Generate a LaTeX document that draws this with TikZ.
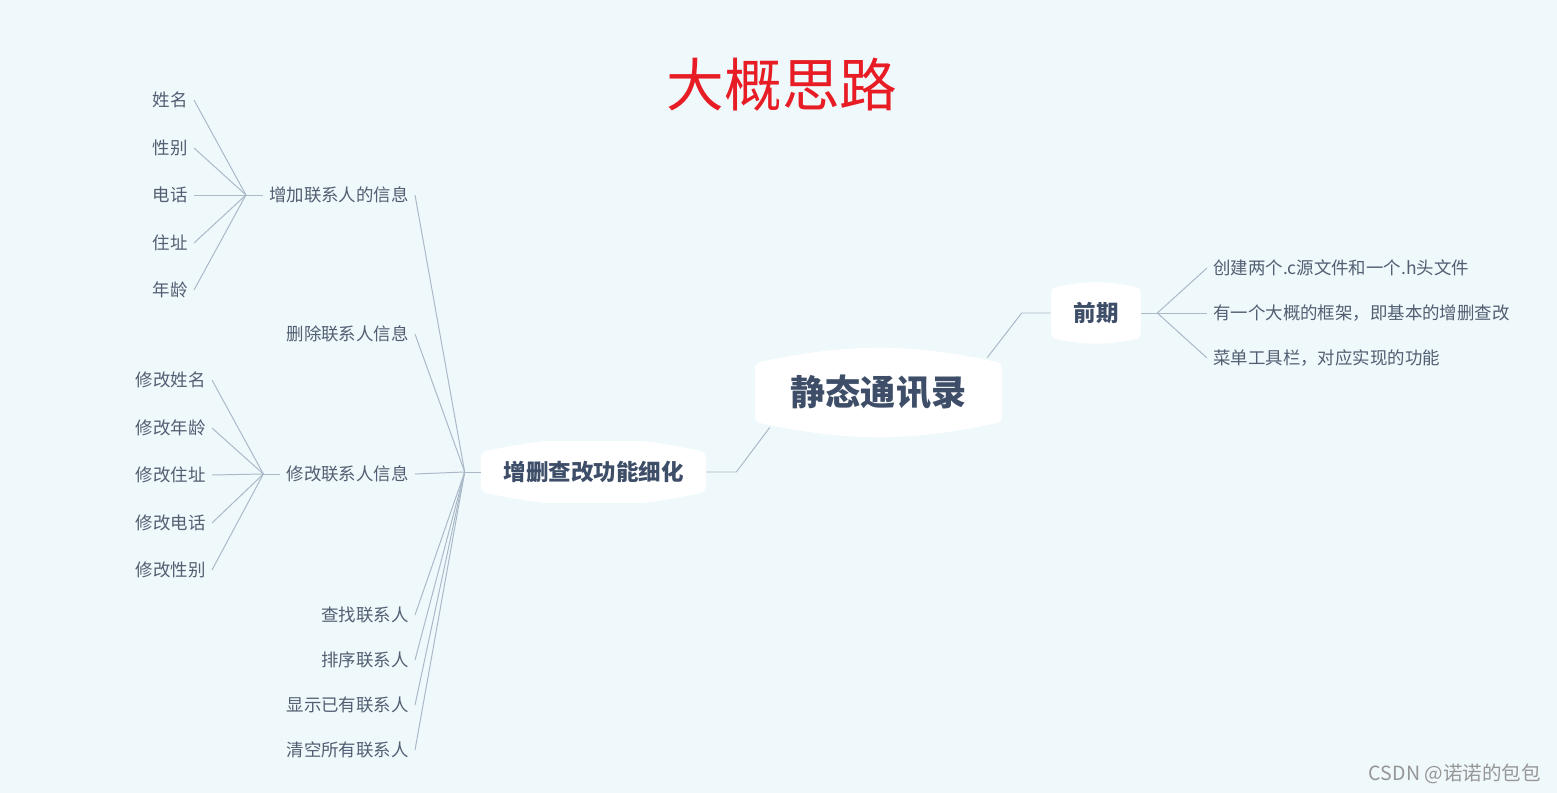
\documentclass[tikz,border=0pt]{standalone}
\usepackage{fontspec}
\setmainfont{Noto Sans CJK SC}
\usetikzlibrary{calc}

\definecolor{paper}{RGB}{239,248,251}
\definecolor{linkgrey}{RGB}{170,184,200}
\definecolor{leafgrey}{RGB}{82,94,114}
\definecolor{topicblue}{RGB}{62,78,104}
\definecolor{titlered}{RGB}{232,28,36}
\definecolor{markgrey}{RGB}{150,150,150}

\tikzset{
	link/.style = {draw = linkgrey, line width = 0.7pt},
	leaf/.style = {text = leafgrey, font = \fontsize{12.4}{14}\selectfont, inner xsep = 0.15cm, inner ysep = 0pt},
	topic/.style = {text = topicblue, inner sep = 0pt,
		path picture = {
			\fill [white, rounded corners = 4pt]
				([yshift = -#1] path picture bounding box.north west)
				to [bend left = 12] ([yshift = -#1] path picture bounding box.north east)
				-- ([yshift = #1] path picture bounding box.south east)
				to [bend left = 12] ([yshift = #1] path picture bounding box.south west)
				-- cycle;
		}},
}

\begin{document}
\begin{tikzpicture}[x = 0.025cm, y = -0.025cm]
		\fill [paper] (0,0) rectangle (1557,793);
		\useasboundingbox (0,0) rectangle (1557,793);
		
		\node [text = titlered, font = \fontsize{41}{41}\selectfont] (title) at (782,85) {大概思路};
		
		\node [topic = 0.4cm, minimum width = 6.175cm, minimum height = 2.275cm, font = \fontsize{25}{25}\bfseries] (root) at (878.5,392.5) {静态通讯录};
		\node [topic = 0.15cm, minimum width = 2.25cm, minimum height = 1.55cm, font = \fontsize{16}{16}\bfseries] (pre) at (1096,313) {前期};
		\node [topic = 0.25cm, minimum width = 5.625cm, minimum height = 1.5cm, font = \fontsize{16}{16}\bfseries] (feat) at (593.5,472) {增删查改功能细化};
		
		\coordinate (root pre bend) at ($ (pre.west) + (-29,0) $);
		\coordinate (root feat bend) at ($ (feat.east) + (30,0) $);
		\draw [link] ($ (root.east) + (-15,-35) $) -- (root pre bend) -- (pre.west);
		\draw [link] ($ (root.west) + (15,35) $) -- (root feat bend) -- (feat.east);
		
		% 前期
		\node [leaf, anchor = west] (pre file) at (1207,268) {创建两个.c源文件和一个.h头文件};
		\node [leaf, anchor = west] (pre frame) at (1207,313) {有一个大概的框架，即基本的增删查改};
		\node [leaf, anchor = west] (pre menu) at (1207,358) {菜单工具栏，对应实现的功能};
		
		\coordinate (pre joint) at ($ (pre.east) + (16,0) $);
		\draw [link] (pre.east) -- (pre joint);
		\draw [link] (pre joint) -- (pre file.west);
		\draw [link] (pre joint) -- (pre frame.west);
		\draw [link] (pre joint) -- (pre menu.west);
		
		% 增删查改功能细化
		\node [leaf, anchor = east] (add) at (415,195) {增加联系人的信息};
		\node [leaf, anchor = east] (del) at (415,334) {删除联系人信息};
		\node [leaf, anchor = east] (mod) at (415,474) {修改联系人信息};
		\node [leaf, anchor = east] (find) at (415,615) {查找联系人};
		\node [leaf, anchor = east] (sort) at (415,660) {排序联系人};
		\node [leaf, anchor = east] (show) at (415,705) {显示已有联系人};
		\node [leaf, anchor = east] (clear) at (415,750) {清空所有联系人};
		
		\coordinate (feat joint) at ($ (feat.west) + (-16,0) $);
		\draw [link] (feat.west) -- (feat joint);
		\draw [link] (feat joint) -- (add.east);
		\draw [link] (feat joint) -- (del.east);
		\draw [link] (feat joint) -- (mod.east);
		\draw [link] (feat joint) -- (find.east);
		\draw [link] (feat joint) -- (sort.east);
		\draw [link] (feat joint) -- (show.east);
		\draw [link] (feat joint) -- (clear.east);
		
		% 增加联系人的信息
		\node [leaf, anchor = east] (add name) at (194,100) {姓名};
		\node [leaf, anchor = east] (add sex) at (194,148) {性别};
		\node [leaf, anchor = east] (add tel) at (194,195) {电话};
		\node [leaf, anchor = east] (add addr) at (194,243) {住址};
		\node [leaf, anchor = east] (add age) at (194,290) {年龄};
		
		\coordinate (add joint) at ($ (add.west) + (-17,0) $);
		\draw [link] (add.west) -- (add joint);
		\draw [link] (add joint) -- (add name.east);
		\draw [link] (add joint) -- (add sex.east);
		\draw [link] (add joint) -- (add tel.east);
		\draw [link] (add joint) -- (add addr.east);
		\draw [link] (add joint) -- (add age.east);
		
		% 修改联系人信息
		\node [leaf, anchor = east] (mod name) at (212,380) {修改姓名};
		\node [leaf, anchor = east] (mod age) at (212,428) {修改年龄};
		\node [leaf, anchor = east] (mod addr) at (212,475) {修改住址};
		\node [leaf, anchor = east] (mod tel) at (212,523) {修改电话};
		\node [leaf, anchor = east] (mod sex) at (212,570) {修改性别};
		
		\coordinate (mod joint) at ($ (mod.west) + (-17,0) $);
		\draw [link] (mod.west) -- (mod joint);
		\draw [link] (mod joint) -- (mod name.east);
		\draw [link] (mod joint) -- (mod age.east);
		\draw [link] (mod joint) -- (mod addr.east);
		\draw [link] (mod joint) -- (mod tel.east);
		\draw [link] (mod joint) -- (mod sex.east);
		
		\node [text = markgrey, font = \fontsize{13.9}{16}\selectfont, inner sep = 0pt, anchor = east] (mark) at (1541,774) {CSDN @诺诺的包包};
	\end{tikzpicture}
\end{document}
